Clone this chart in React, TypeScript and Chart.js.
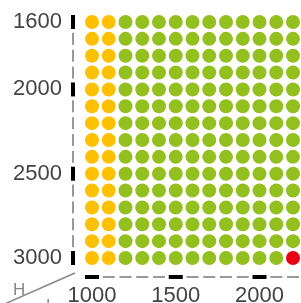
import React, { useEffect, useRef } from "react";
import { Chart, registerables } from "chart.js";

Chart.register(...registerables);

// ---- data ----
const xValues = [1000, 1100, 1200, 1300, 1400, 1500, 1600, 1700, 1800, 1900, 2000, 2100, 2200];
const yValues = [1600, 1700, 1800, 1900, 2000, 2100, 2200, 2300, 2400, 2500, 2600, 2700, 2800, 2900, 3000];
const xTickLabels = [1000, 1500, 2000];
const yTickLabels = [1600, 2000, 2500, 3000];
const yellowColumns = [1000, 1100];
const redCells: [number, number][] = [[2200, 3000]];
const cornerLabels = ["H", "L"];

const YELLOW = "#FFC000";
const GREEN = "#93C01F";
const RED = "#E60012";

function isRed(x: number, y: number) {
  return redCells.some(([rx, ry]) => rx === x && ry === y);
}

const yellowPts: { x: number; y: number }[] = [];
const greenPts: { x: number; y: number }[] = [];
const redPts: { x: number; y: number }[] = [];
for (const x of xValues) {
  for (const y of yValues) {
    if (isRed(x, y)) redPts.push({ x, y });
    else if (yellowColumns.includes(x)) yellowPts.push({ x, y });
    else greenPts.push({ x, y });
  }
}

const axisPlugin = {
  id: "dashAxes",
  afterDraw(chart: any) {
    const { ctx, chartArea, scales } = chart;
    const xs = scales.x;
    const ys = scales.y;
    const axX = chartArea.left - 19;
    const axY = chartArea.bottom + 19;
    ctx.save();
    for (const v of yValues) {
      const py = ys.getPixelForValue(v);
      if (yTickLabels.includes(v)) {
        ctx.fillStyle = "#000";
        ctx.fillRect(axX - 2, py - 7, 4, 14);
      } else {
        ctx.fillStyle = "#999";
        ctx.fillRect(axX - 1, py - 6, 2, 12);
      }
    }
    for (const v of xValues) {
      const px = xs.getPixelForValue(v);
      if (xTickLabels.includes(v)) {
        ctx.fillStyle = "#000";
        ctx.fillRect(px - 7, axY - 2, 14, 4);
      } else {
        ctx.fillStyle = "#999";
        ctx.fillRect(px - 6, axY - 1, 12, 2);
      }
    }
    ctx.strokeStyle = "#888";
    ctx.lineWidth = 1.5;
    ctx.beginPath();
    ctx.moveTo(axX + 2, axY - 4);
    ctx.lineTo(0, axY + 29);
    ctx.stroke();
    ctx.fillStyle = "#888";
    ctx.font = "17px 'Liberation Sans', Arial, sans-serif";
    ctx.textAlign = "left";
    ctx.textBaseline = "alphabetic";
    ctx.fillText(cornerLabels[0], axX - 60, axY + 18);
    ctx.fillText(cornerLabels[1], axX - 27, axY + 34);
    ctx.restore();
  },
};

export default function App() {
  const ref = useRef<HTMLCanvasElement | null>(null);
  useEffect(() => {
    document.body.style.margin = "0";
    const canvas = ref.current!;
    const font = { family: "'Liberation Sans', Arial, sans-serif", size: 22 };
    const chart = new Chart(canvas, {
      type: "scatter",
      data: {
        datasets: [
          { data: yellowPts, backgroundColor: YELLOW },
          { data: greenPts, backgroundColor: GREEN },
          { data: redPts, backgroundColor: RED },
        ].map((d) => ({
          ...d,
          pointRadius: 7,
          pointHoverRadius: 7,
          borderWidth: 0,
          pointStyle: "circle",
          clip: false,
        })),
      },
      options: {
        responsive: false,
        animation: false,
        layout: { autoPadding: false, padding: { top: 22, right: 8, left: 0, bottom: 0 } },
        plugins: { legend: { display: false }, tooltip: { enabled: false } },
        scales: {
          x: {
            type: "linear",
            position: "bottom",
            min: xValues[0],
            max: xValues[xValues.length - 1],
            grid: { display: true, drawOnChartArea: false, drawTicks: true, tickLength: 25, color: "rgba(0,0,0,0)" },
            border: { display: false },
            ticks: {
              font,
              color: "#444",
              padding: 0,
              maxRotation: 0,
              autoSkip: false,
              callback: (v: any) => String(v),
            },
            afterBuildTicks: (s: any) => {
              s.ticks = xTickLabels.map((v) => ({ value: v }));
            },
            afterFit: (s: any) => {
              s.height = 45;
            },
          },
          y: {
            type: "linear",
            reverse: true,
            min: yValues[0],
            max: yValues[yValues.length - 1],
            grid: { display: true, drawOnChartArea: false, drawTicks: true, tickLength: 30, color: "rgba(0,0,0,0)" },
            border: { display: false },
            ticks: {
              font,
              color: "#444",
              padding: 0,
              autoSkip: false,
              callback: (v: any) => String(v),
            },
            afterBuildTicks: (s: any) => {
              s.ticks = yTickLabels.map((v) => ({ value: v }));
            },
            afterFit: (s: any) => {
              s.width = 92;
            },
          },
        },
      },
      plugins: [axisPlugin],
    } as any);
    return () => chart.destroy();
  }, []);
  return (
    <div style={{ width: 301, height: 303 }}>
      <canvas ref={ref} width={301} height={303} style={{ display: "block" }} />
    </div>
  );
}
